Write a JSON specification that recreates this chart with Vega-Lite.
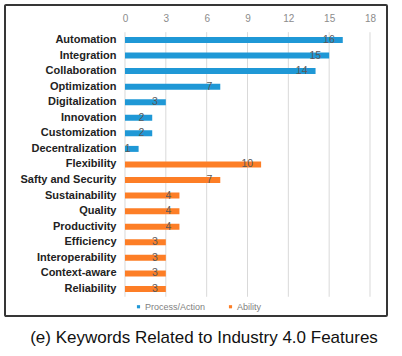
{
  "$schema": "https://vega.github.io/schema/vega-lite/v6.json",
  "width": 382,
  "height": 311,
  "padding": {"left": 5, "top": 5, "right": 15, "bottom": 10},
  "background": "white",
  "config": {
    "view": {"stroke": "#363636", "strokeWidth": 2, "cornerRadius": 1},
    "font": "Liberation Sans"
  },
  "title": {
    "text": "(e) Keywords Related to Industry 4.0 Features",
    "orient": "bottom",
    "anchor": "middle",
    "offset": 14,
    "fontSize": 17,
    "fontWeight": "normal",
    "color": "#111111",
    "font": "Liberation Sans",
    "dx": 8
  },
  "datasets": {
    "bars": [
      {"name": "Automation", "value": 16, "type": "Process/Action"},
      {"name": "Integration", "value": 15, "type": "Process/Action"},
      {"name": "Collaboration", "value": 14, "type": "Process/Action"},
      {"name": "Optimization", "value": 7, "type": "Process/Action"},
      {"name": "Digitalization", "value": 3, "type": "Process/Action"},
      {"name": "Innovation", "value": 2, "type": "Process/Action"},
      {"name": "Customization", "value": 2, "type": "Process/Action"},
      {"name": "Decentralization", "value": 1, "type": "Process/Action"},
      {"name": "Flexibility", "value": 10, "type": "Ability"},
      {"name": "Safty and Security", "value": 7, "type": "Ability"},
      {"name": "Sustainability", "value": 4, "type": "Ability"},
      {"name": "Quality", "value": 4, "type": "Ability"},
      {"name": "Productivity", "value": 4, "type": "Ability"},
      {"name": "Efficiency", "value": 3, "type": "Ability"},
      {"name": "Interoperability", "value": 3, "type": "Ability"},
      {"name": "Context-aware", "value": 3, "type": "Ability"},
      {"name": "Reliability", "value": 3, "type": "Ability"}
    ],
    "grid": [{"g": 0}, {"g": 3}, {"g": 6}, {"g": 9}, {"g": 12}, {"g": 15}, {"g": 18}]
  },
  "data": {"name": "bars"},
  "encoding": {
    "y": {
      "field": "name",
      "type": "nominal",
      "sort": null,
      "scale": {
        "domain": [" ", "Automation", "Integration", "Collaboration", "Optimization", "Digitalization", "Innovation", "Customization", "Decentralization", "Flexibility", "Safty and Security", "Sustainability", "Quality", "Productivity", "Efficiency", "Interoperability", "Context-aware", "Reliability", "  "],
        "paddingInner": 0,
        "paddingOuter": 0.49,
        "align": 0.76
      },
      "axis": {
        "orient": "left",
        "offset": -120,
        "domain": false,
        "ticks": false,
        "labelPadding": 9,
        "labelFontSize": 11,
        "labelFontWeight": "bold",
        "labelColor": "#222222",
        "title": null
      }
    }
  },
  "layer": [
    {
      "data": {"name": "grid"},
      "mark": {"type": "rule", "color": "#d9d9d9", "strokeWidth": 1},
      "encoding": {
        "x": {"field": "g", "type": "quantitative", "scale": {"domain": [-8.816, 19.249], "nice": false, "zero": false}},
        "y": {"datum": "Automation", "bandPosition": 0},
        "y2": {"datum": "Reliability", "bandPosition": 1}
      }
    },
    {
      "mark": {"type": "bar", "size": 6},
      "encoding": {
        "x": {
          "field": "value",
          "type": "quantitative",
          "scale": {"domain": [-8.816, 19.249], "nice": false, "zero": false},
          "axis": {
            "orient": "top",
            "values": [0, 3, 6, 9, 12, 15, 18],
            "offset": -27,
            "domain": false,
            "ticks": false,
            "grid": false,
            "labelPadding": 9,
            "labelColor": "#8c8c8c",
            "labelFontSize": 10,
            "title": null
          }
        },
        "color": {
          "field": "type",
          "type": "nominal",
          "scale": {"domain": ["Process/Action", "Ability"], "range": ["#1f98d6", "#fd7e26"]},
          "legend": {
            "orient": "none",
            "legendX": 129,
            "legendY": 297,
            "direction": "horizontal",
            "title": null,
            "symbolType": "square",
            "symbolSize": 10,
            "symbolStrokeWidth": 0,
            "labelFontSize": 9,
            "labelColor": "#7f7f7f",
            "labelOffset": 2,
            "columnPadding": 20
          }
        }
      }
    },
    {
      "mark": {"type": "text", "align": "right", "baseline": "middle", "dx": -8, "fontSize": 10.5, "color": "#595959"},
      "encoding": {
        "x": {"field": "value", "type": "quantitative"},
        "text": {"field": "value", "type": "quantitative"}
      }
    }
  ]
}
